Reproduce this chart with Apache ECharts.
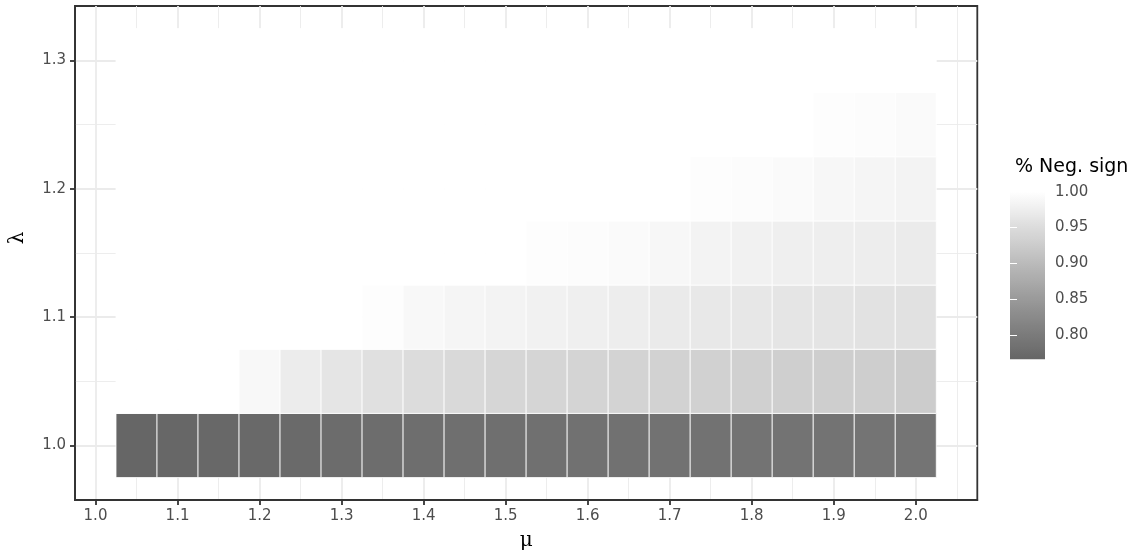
<!DOCTYPE html>
<html><head><meta charset="utf-8">
<script src="https://cdn.jsdelivr.net/npm/echarts@6/dist/echarts.min.js"></script>
<style>html,body{margin:0;padding:0;background:#fff}#c{width:1136px;height:556px}</style>
</head><body><div id="c"></div>
<script>
// ---- data ----
const mu = [1.05,1.10,1.15,1.20,1.25,1.30,1.35,1.40,1.45,1.50,1.55,1.60,1.65,1.70,1.75,1.80,1.85,1.90,1.95,2.00];
const lambda = [1.00,1.05,1.10,1.15,1.20,1.25,1.30];
const negLam100 = [0.766,0.768,0.770,0.772,0.774,0.776,0.777,0.779,0.780,0.781,0.782,0.783,0.784,0.785,0.786,0.787,0.788,0.788,0.789,0.790];
const negLam105 = [1,1,1,0.990,0.972,0.962,0.956,0.951,0.946,0.942,0.939,0.937,0.935,0.934,0.932,0.931,0.930,0.929,0.928,0.926];
const negLam110 = [1,1,1,1,1,1,0.997,0.990,0.986,0.983,0.979,0.976,0.973,0.970,0.967,0.965,0.963,0.961,0.959,0.957];
const negLam115 = [1,1,1,1,1,1,1,1,1,1,0.997,0.995,0.993,0.989,0.982,0.979,0.977,0.975,0.973,0.971];
const negLam120 = [1,1,1,1,1,1,1,1,1,1,1,1,1,1,0.997,0.995,0.993,0.988,0.985,0.983];
const negLam125 = [1,1,1,1,1,1,1,1,1,1,1,1,1,1,1,1,1,0.997,0.995,0.993];
const negLam130 = [1,1,1,1,1,1,1,1,1,1,1,1,1,1,1,1,1,1,1,1];
const xMajorTicks = [1.0,1.1,1.2,1.3,1.4,1.5,1.6,1.7,1.8,1.9,2.0];
const xMinorTicks = [1.05,1.15,1.25,1.35,1.45,1.55,1.65,1.75,1.85,1.95,2.05];
const yMajorTicks = [1.0,1.1,1.2,1.3];
const yMinorTicks = [1.05,1.15,1.25];
const legendTicks = [1.00,0.95,0.90,0.85,0.80];

const rows = [negLam100,negLam105,negLam110,negLam115,negLam120,negLam125,negLam130];
const data = [];
rows.forEach((r,j)=>r.forEach((v,i)=>data.push([mu[i],lambda[j],v])));
const allV = data.map(d=>d[2]);
const vmin = Math.min(...allV), vmax = Math.max(...allV);

// Lab (L*) interpolation between two greys, as ggplot does
function toLin(c){c/=255;return c<=0.04045?c/12.92:Math.pow((c+0.055)/1.055,2.4);}
function toL(g){const Y=toLin(g);return Y>0.008856?116*Math.cbrt(Y)-16:903.3*Y;}
function fromL(L){const f=(L+16)/116;const Y=L>8?f*f*f:L/903.3;const c=Y<=0.0031308?12.92*Y:1.055*Math.pow(Y,1/2.4)-0.055;return Math.round(Math.max(0,Math.min(1,c))*255);}
const lowG=102, highG=255;
function greyAt(t){const L=toL(lowG)+(toL(highG)-toL(lowG))*t;const g=fromL(L);return 'rgb('+g+','+g+','+g+')';}
const nStops=41;
const stops=[];for(let k=0;k<nStops;k++)stops.push(greyAt(k/(nStops-1)));

const txt='#4d4d4d', font="'DejaVu Sans', 'Liberation Sans', sans-serif";
const chart = echarts.init(document.getElementById('c'));
chart.setOption({
  animation:false,
  backgroundColor:'#fff',
  title:{text:'% Neg. sign',left:1010,top:153,textStyle:{fontFamily:font,fontSize:19,fontWeight:'normal',color:'#000'}},
  grid:[
    {left:72.3,right:158.7,top:6,bottom:50.3,show:true,borderColor:'#333',borderWidth:1.8,backgroundColor:'#fff'},
    {left:1010,top:191.7,width:35,height:167.6}
  ],
  visualMap:{show:false,type:'continuous',min:vmin,max:vmax,dimension:2,seriesIndex:0,inRange:{color:stops}},
  xAxis:[
    {gridIndex:0,type:'value',min:0.975,max:2.075,name:'μ',nameLocation:'middle',nameGap:31,
     nameTextStyle:{fontFamily:"'DejaVu Serif', serif",fontSize:20,color:'#000'},
     axisLine:{show:true,onZero:false,lineStyle:{color:'#333',width:1.8}},
     axisTick:{show:true,length:5,customValues:xMajorTicks,lineStyle:{color:'#333',width:1.8}},
     axisLabel:{customValues:xMajorTicks,formatter:v=>v.toFixed(1),margin:9,color:txt,fontFamily:font,fontSize:15},
     splitLine:{show:true,lineStyle:{color:'#ebebeb',width:1.8}}},
    {gridIndex:0,type:'value',min:0.975,max:2.075,position:'bottom',
     axisLine:{show:false},axisLabel:{show:false},
     axisTick:{show:false,customValues:xMinorTicks},
     splitLine:{show:true,lineStyle:{color:'#ebebeb',width:0.9}}},
    {gridIndex:1,type:'value',min:0,max:1,show:false}
  ],
  yAxis:[
    {gridIndex:0,type:'value',min:0.9575,max:1.3425,name:'λ',nameLocation:'middle',nameGap:47,nameRotate:90,
     nameTextStyle:{fontFamily:"'DejaVu Serif', serif",fontSize:20,color:'#000',padding:[0,0,0,30]},
     axisLine:{show:true,onZero:false,lineStyle:{color:'#333',width:1.8}},
     axisTick:{show:true,length:5,customValues:yMajorTicks,lineStyle:{color:'#333',width:1.8}},
     axisLabel:{customValues:yMajorTicks,formatter:v=>v.toFixed(1),margin:9,color:txt,fontFamily:font,fontSize:15},
     splitLine:{show:true,lineStyle:{color:'#ebebeb',width:1.8}}},
    {gridIndex:0,type:'value',min:0.9575,max:1.3425,position:'left',
     axisLine:{show:false},axisLabel:{show:false},
     axisTick:{show:false,customValues:yMinorTicks},
     splitLine:{show:true,lineStyle:{color:'#ebebeb',width:0.9}}},
    {gridIndex:1,type:'value',min:vmin,max:vmax,position:'right',z:10,
     axisLine:{show:false},
     axisTick:{show:true,inside:true,length:7,customValues:legendTicks,lineStyle:{color:'#fff',width:1}},
     axisLabel:{customValues:legendTicks,formatter:v=>v.toFixed(2),margin:10,color:txt,fontFamily:font,fontSize:15},
     splitLine:{show:false}},
    {gridIndex:1,type:'value',min:vmin,max:vmax,position:'left',z:10,
     axisLine:{show:false},axisLabel:{show:false},
     axisTick:{show:true,inside:true,length:7,customValues:legendTicks,lineStyle:{color:'#fff',width:1}},
     splitLine:{show:false}}
  ],
  series:[
    {type:'custom',xAxisIndex:0,yAxisIndex:0,data:data,
     renderItem:function(params,api){
       const c=api.coord([api.value(0),api.value(1)]);
       const s=api.size([0.05,0.05]);
       return {type:'rect',shape:{x:c[0]-s[0]/2,y:c[1]-s[1]/2,width:s[0],height:s[1]},
               style:{fill:api.visual('color'),stroke:'#fff',lineWidth:0.8}};
     }},
    {type:'custom',xAxisIndex:2,yAxisIndex:2,data:[[0,vmin,1,vmax]],silent:true,
     renderItem:function(params,api){
       const p0=api.coord([api.value(0),api.value(3)]);
       const p1=api.coord([api.value(2),api.value(1)]);
       const cs=stops.map((col,k)=>({offset:1-k/(stops.length-1),color:col}));
       return {type:'rect',shape:{x:p0[0],y:p0[1],width:p1[0]-p0[0],height:p1[1]-p0[1]},
               style:{fill:new echarts.graphic.LinearGradient(0,0,0,1,cs.reverse())}};
     }}
  ]
});
</script></body></html>
